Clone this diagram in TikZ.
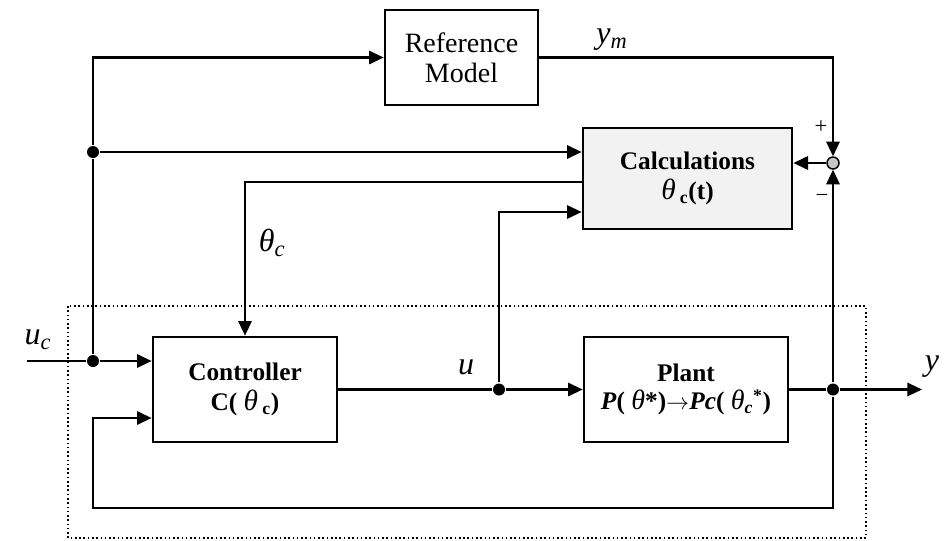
\documentclass[tikz,border=0pt]{standalone}
\usepackage{fontspec}
\setmainfont{Liberation Serif}
\usetikzlibrary{arrows.meta}
\begin{document}
\begin{tikzpicture}[x=0.75pt,y=-0.75pt,
 line width=1.6pt,
 blk/.style={draw, rectangle, inner sep=0pt, align=center, line width=2pt},
 arr/.style={-{Triangle[length=11pt,width=10pt]}},
 dot/.style={circle, fill, inner sep=0pt, minimum size=9pt},
 sumj/.style={circle, draw, fill=gray!45, inner sep=0pt, minimum size=9pt, line width=1.1pt},
 lbl/.style={font=\fontsize{24}{26}\selectfont\itshape, inner sep=0pt},
 sgn/.style={font=\fontsize{17}{18}\selectfont, inner sep=0pt},
]
\useasboundingbox (0,0) rectangle (945,540);
% blocks
\node[blk, minimum width=114.75pt, minimum height=71.25pt, font=\fontsize{21}{22.5}\selectfont] (ref) at (461.5,57.5) {Reference\\Model};
\node[blk, fill=gray!10, minimum width=156.75pt, minimum height=75.75pt, font=\fontsize{19}{23}\selectfont\bfseries] (calc) at (687.5,178.5) {Calculations\\ {\fontsize{22}{23}\selectfont\textit{\mdseries θ}}\,\textsubscript{c}(t)};
\node[blk, minimum width=138pt, minimum height=78.75pt, font=\fontsize{19}{22.5}\selectfont\bfseries] (ctrl) at (245,389.5) {Controller\\C( {\fontsize{22}{23}\selectfont\textit{\mdseries θ}}\,\textsubscript{c})};
\node[blk, minimum width=153pt, minimum height=78.75pt, font=\fontsize{19}{21}\selectfont\bfseries] (plant) at (686,389.5) {Plant\\ \textit{P}( {\fontsize{21}{22}\selectfont\textit{\mdseries θ}}*)$\rightarrow$\textit{Pc}( {\fontsize{21}{22}\selectfont\textit{\mdseries θ}}\textsubscript{\textit{c}}\textsuperscript{*})};
\node[sumj] (sum) at (833,163) {};
% dotted frame
\draw[dotted, line width=1.2pt] (68,306) rectangle (866,538);
% helper coordinates
\coordinate (uin) at (27,361);
\coordinate (t1) at (0,182);
\coordinate (t2) at (0,212);
\coordinate (t3) at (0,418);
\coordinate (fb1) at (833,508);
\coordinate (fb2) at (93,508);
\coordinate (yout) at (922,389.5);
% junction dots
\node[dot] (j1) at (93,361) {};
\node[dot] (j2) at (93,152) {};
\node[dot] (ju) at (499,389.5) {};
\node[dot] (jy) at (833,389.5) {};
% connectors
\draw (uin) -- (j1);
\draw[arr] (j1) -- (ctrl.west |- j1);
\draw (j1) -- (j2);
\draw[arr] (j2) |- (ref.west);
\draw[arr] (j2) -- (calc.west |- j2);
\draw[arr] (calc.west |- t1) -| (ctrl.north);
\draw (ctrl.east) -- (ju);
\draw[arr] (ju) -- (plant.west);
\draw[arr] (ju) |- (calc.west |- t2);
\draw (plant.east) -- (jy);
\draw[arr] (jy) -- (yout);
\draw[arr] (jy) -- (sum.south);
\draw[arr] (ref.east) -| (sum.north);
\draw[arr] (sum.west) -- (calc.east |- sum);
\draw[arr] (jy) -- (fb1) -- (fb2) |- (ctrl.west |- t3);
% labels
\node[lbl] (luc) at (38,340) {u\textsubscript{c}};
\node[lbl] (lu) at (466,367) {u};
\node[lbl] (ly) at (932,367) {y};
\node[lbl] (lym) at (612,40) {y\textsubscript{m}};
\node[lbl] (lth) at (272,243) {θ\textsubscript{c}};
\node[sgn] (plus) at (821,127) {+};
\node[sgn] (minus) at (822,198) {−};
\end{tikzpicture}
\end{document}
